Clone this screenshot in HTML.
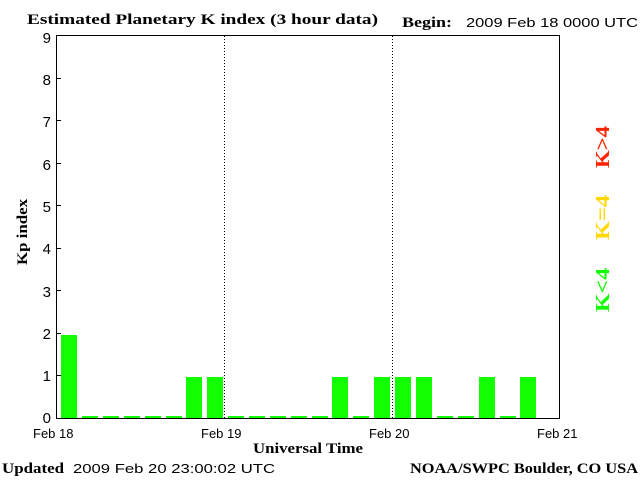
<!DOCTYPE html>
<html><head><style>
html,body{margin:0;padding:0;background:#fff;width:640px;height:480px;overflow:hidden}
</style></head><body>
<svg width="640" height="480" xmlns="http://www.w3.org/2000/svg">
<rect width="640" height="480" fill="#fff"/>
<g font-family="Liberation Serif, serif" font-weight="bold" font-size="15" fill="#000">
<text x="27" y="24" textLength="351" lengthAdjust="spacingAndGlyphs">Estimated Planetary K index (3 hour data)</text>
<text x="402" y="27" textLength="50" lengthAdjust="spacingAndGlyphs">Begin:</text>
<text x="2" y="473" textLength="62" lengthAdjust="spacingAndGlyphs">Updated</text>
<text x="410" y="473" textLength="228" lengthAdjust="spacingAndGlyphs">NOAA/SWPC Boulder, CO USA</text>
<text x="253" y="453" textLength="110" lengthAdjust="spacingAndGlyphs">Universal Time</text>
<text transform="translate(27,265) rotate(-90)" textLength="66" lengthAdjust="spacingAndGlyphs">Kp index</text>
</g>
<g font-family="Liberation Sans, sans-serif" font-size="13" fill="#000">
<text x="466" y="27" textLength="172" lengthAdjust="spacingAndGlyphs">2009 Feb 18 0000 UTC</text>
<text x="73" y="473" textLength="202" lengthAdjust="spacingAndGlyphs">2009 Feb 20 23:00:02 UTC</text>
<text x="33" y="438">Feb 18</text>
<text x="201" y="438">Feb 19</text>
<text x="369" y="438">Feb 20</text>
<text x="537" y="438">Feb 21</text>
</g>
<g font-family="Liberation Sans, sans-serif" font-size="15" fill="#000" text-anchor="end">
<text x="51" y="423">0</text><text x="51" y="381">1</text><text x="51" y="339">2</text>
<text x="51" y="297">3</text><text x="51" y="254">4</text><text x="51" y="212">5</text>
<text x="51" y="170">6</text><text x="51" y="127">7</text><text x="51" y="85">8</text>
<text x="51" y="43">9</text>
</g>
<g fill="#11ff00">
<rect x="61" y="335" width="16" height="84"/>
<rect x="82" y="416" width="16" height="3"/>
<rect x="103" y="416" width="16" height="3"/>
<rect x="124" y="416" width="16" height="3"/>
<rect x="145" y="416" width="16" height="3"/>
<rect x="166" y="416" width="16" height="3"/>
<rect x="186" y="377" width="16" height="42"/>
<rect x="207" y="377" width="16" height="42"/>
<rect x="228" y="416" width="16" height="3"/>
<rect x="249" y="416" width="16" height="3"/>
<rect x="270" y="416" width="16" height="3"/>
<rect x="291" y="416" width="16" height="3"/>
<rect x="312" y="416" width="16" height="3"/>
<rect x="332" y="377" width="16" height="42"/>
<rect x="353" y="416" width="16" height="3"/>
<rect x="374" y="377" width="16" height="42"/>
<rect x="395" y="377" width="16" height="42"/>
<rect x="416" y="377" width="16" height="42"/>
<rect x="437" y="416" width="16" height="3"/>
<rect x="458" y="416" width="16" height="3"/>
<rect x="479" y="377" width="16" height="42"/>
<rect x="500" y="416" width="16" height="3"/>
<rect x="520" y="377" width="16" height="42"/>
</g>
<g stroke="#000" stroke-width="1" fill="none">
<rect x="56.5" y="35.5" width="503" height="383"/>
<line x1="224.5" y1="36" x2="224.5" y2="418" stroke-dasharray="1,2"/>
<line x1="392.5" y1="36" x2="392.5" y2="418" stroke-dasharray="1,2"/>
<path d="M57 78.5h4M57 120.5h4M57 163.5h4M57 205.5h4M57 248.5h4M57 290.5h4M57 333.5h4M57 375.5h4"/>
</g>
<g font-family="Liberation Serif, serif" font-size="20" font-weight="bold">
<text transform="translate(609,168) rotate(-90)" fill="#ff2200" textLength="42" lengthAdjust="spacingAndGlyphs">K&gt;4</text>
<text transform="translate(609,240) rotate(-90)" fill="#ffd800" textLength="45" lengthAdjust="spacingAndGlyphs">K=4</text>
<text transform="translate(609,312) rotate(-90)" fill="#11ff00" textLength="44" lengthAdjust="spacingAndGlyphs">K&lt;4</text>
</g>
</svg>
</body></html>
